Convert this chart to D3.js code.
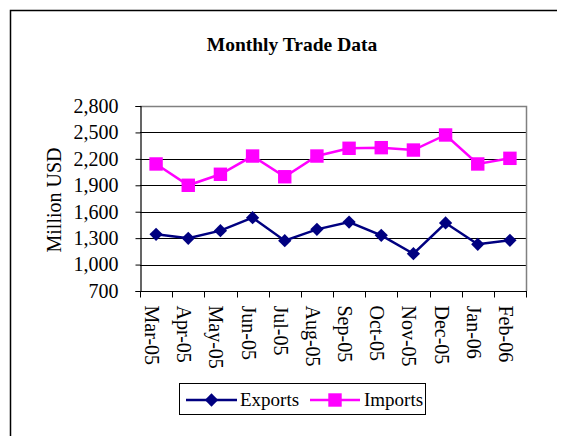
<!DOCTYPE html>
<html>
<head>
<meta charset="utf-8">
<script src="https://d3js.org/d3.v7.min.js"></script>
<style>
  html, body { margin: 0; padding: 0; background: #fff; }
  svg { display: block; }
  text { font-family: "Liberation Serif", "Times New Roman", serif; fill: #000; }
</style>
</head>
<body>
<svg id="chart" width="561" height="436"></svg>
<script>
const categories = ["Mar-05","Apr-05","May-05","Jun-05","Jul-05","Aug-05","Sep-05","Oct-05","Nov-05","Dec-05","Jan-06","Feb-06"];
const exportsValues = [1343, 1298, 1385, 1532, 1271, 1400, 1483, 1332, 1123, 1472, 1230, 1275];
const importsValues = [2142, 1900, 2025, 2232, 1997, 2232, 2320, 2327, 2300, 2471, 2142, 2206];
const yTicks = [700, 1000, 1300, 1600, 1900, 2200, 2500, 2800];
const seriesNames = ["Exports", "Imports"];
const titleText = "Monthly Trade Data";
const yLabelText = "Million USD";

const svg = d3.select("#chart");

// outer chart frame (top and left visible)
svg.append("path").attr("d", "M10.5,436 L10.5,10.5 L557,10.5")
  .attr("fill", "none").attr("stroke", "#000").attr("stroke-width", 1.5);

const plot = { left: 140, right: 526, top: 106, bottom: 291 };

const x = d3.scaleBand().domain(categories).range([plot.left, plot.right]).padding(0);
const y = d3.scaleLinear().domain([700, 2800]).range([plot.bottom, plot.top]);
const cx = d => x(d) + x.bandwidth() / 2;

// gridlines
svg.append("g").selectAll("line").data(yTicks.filter(t => t > 700 && t < 2800)).join("line")
  .attr("x1", plot.left).attr("x2", plot.right)
  .attr("y1", d => Math.round(y(d)) + 0.5).attr("y2", d => Math.round(y(d)) + 0.5)
  .attr("stroke", "#000").attr("stroke-width", 1);

// plot border (gray)
svg.append("path")
  .attr("d", `M${plot.left},${plot.top + 0.5} L${plot.right + 0.5},${plot.top + 0.5} L${plot.right + 0.5},${plot.bottom}`)
  .attr("fill", "none").attr("stroke", "#808080").attr("stroke-width", 1.5);

// y axis
const yAxis = d3.axisLeft(y).tickValues(yTicks).tickFormat(d3.format(",")).tickSize(5).tickPadding(17);
const gy = svg.append("g").attr("transform", `translate(${plot.left + 0.5},0)`).call(yAxis);
gy.select(".domain").attr("stroke", "#000").attr("stroke-width", 1.2);
gy.selectAll(".tick line").attr("stroke", "#000");
gy.selectAll(".tick text").style("font-size", "20px").style("font-family", "'Liberation Serif', 'Times New Roman', serif").attr("fill", "#000");

// x axis with ticks at category boundaries
const gx = svg.append("g").attr("transform", `translate(0,${plot.bottom + 0.5})`);
gx.append("line").attr("x1", plot.left).attr("x2", plot.right + 1).attr("stroke", "#000").attr("stroke-width", 1.2);
const boundaries = categories.map(c => x(c)).concat([plot.right]);
gx.selectAll("line.tk").data(boundaries).join("line").attr("class", "tk")
  .attr("x1", d => Math.round(d) + 0.5).attr("x2", d => Math.round(d) + 0.5)
  .attr("y1", 0).attr("y2", 6).attr("stroke", "#000");
gx.selectAll("text").data(categories).join("text")
  .attr("transform", d => `translate(${cx(d) - 11},${305 - plot.bottom}) rotate(90)`)
  .attr("text-anchor", "start")
  .style("font-size", "20px")
  .text(d => d);

// lines
const line = d3.line().x((d, i) => cx(categories[i])).y(d => y(d));
const colors = { Exports: "#000080", Imports: "#FF00FF" };

svg.append("path").datum(exportsValues).attr("d", line)
  .attr("fill", "none").attr("stroke", colors.Exports).attr("stroke-width", 2.5);
svg.append("path").datum(importsValues).attr("d", line)
  .attr("fill", "none").attr("stroke", colors.Imports).attr("stroke-width", 2.5);

const diamond = d3.symbol().type(d3.symbolSquare).size(88);
const square = d3.symbol().type(d3.symbolSquare).size(180);

svg.append("g").selectAll("path").data(exportsValues).join("path")
  .attr("d", diamond)
  .attr("transform", (d, i) => `translate(${cx(categories[i])},${y(d)}) rotate(45)`)
  .attr("fill", colors.Exports);
svg.append("g").selectAll("path").data(importsValues).join("path")
  .attr("d", square)
  .attr("transform", (d, i) => `translate(${cx(categories[i])},${y(d)})`)
  .attr("fill", colors.Imports);

// title
svg.append("text").attr("x", 292).attr("y", 51).attr("text-anchor", "middle")
  .style("font-size", "19.5px").style("font-weight", "bold").text(titleText);

// y label
svg.append("text").attr("transform", "translate(61,200) rotate(-90)")
  .attr("text-anchor", "middle").style("font-size", "20px").text(yLabelText);

// legend
const lg = svg.append("g");
lg.append("rect").attr("x", 179.5).attr("y", 383.5).attr("width", 246).attr("height", 31)
  .attr("fill", "#fff").attr("stroke", "#000").attr("stroke-width", 1);
const legendItems = [
  { name: seriesNames[0], x0: 186, x1: 237, tx: 240, sym: diamond, rot: 45 },
  { name: seriesNames[1], x0: 310, x1: 360, tx: 364, sym: square, rot: 0 }
];
legendItems.forEach(it => {
  lg.append("line").attr("x1", it.x0).attr("x2", it.x1).attr("y1", 400).attr("y2", 400)
    .attr("stroke", colors[it.name]).attr("stroke-width", 2.5);
  lg.append("path").attr("d", it.sym)
    .attr("transform", `translate(${(it.x0 + it.x1) / 2},400) rotate(${it.rot})`)
    .attr("fill", colors[it.name]);
  lg.append("text").attr("x", it.tx).attr("y", 406).style("font-size", "19px").text(it.name);
});
</script>
</body>
</html>
